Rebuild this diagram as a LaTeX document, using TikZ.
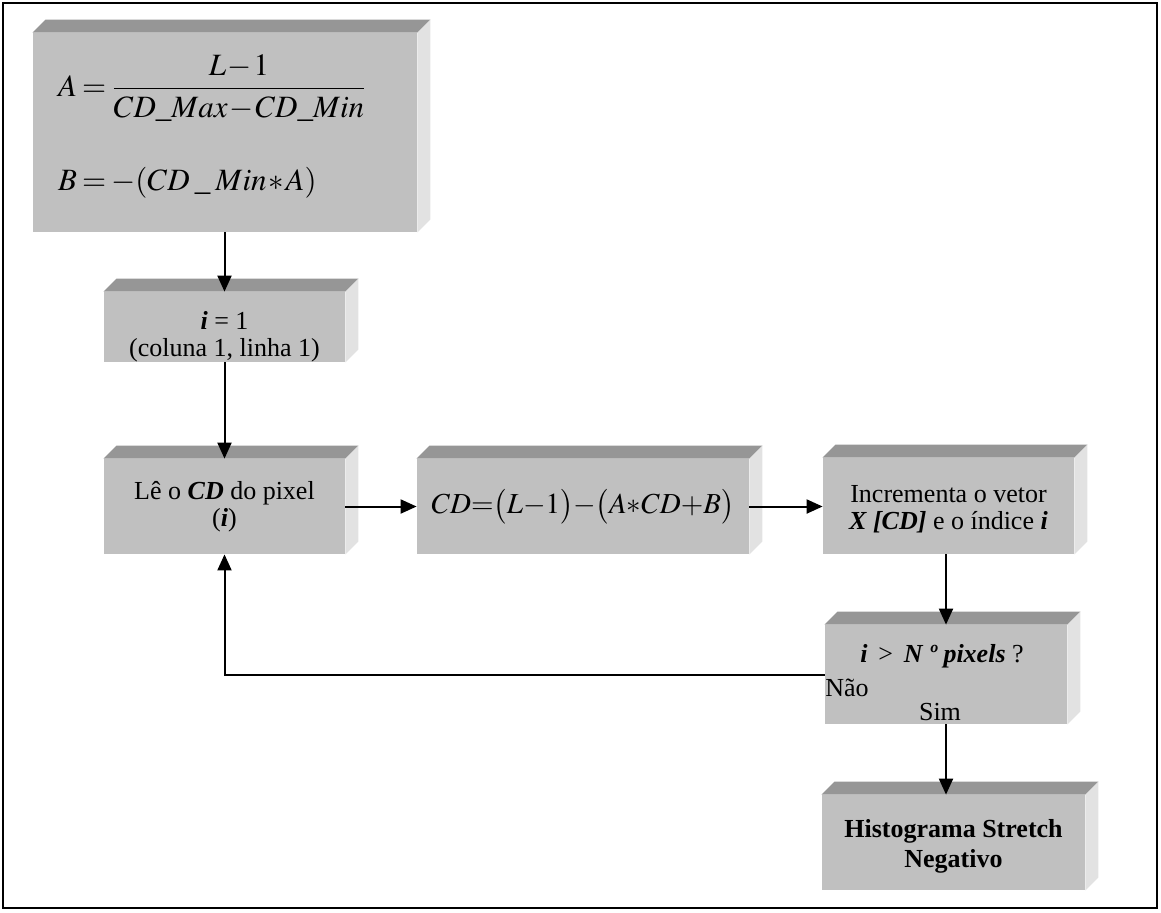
\documentclass[tikz,border=0pt]{standalone}
\usepackage{mathptmx}
\usepackage{fontspec}
\setmainfont{Liberation Serif}
\usetikzlibrary{arrows.meta}

\definecolor{slabfront}{HTML}{C0C0C0}
\definecolor{slabtop}{HTML}{969696}
\definecolor{slabside}{HTML}{E2E2E2}

\tikzset{
  slab/.style={fill=slabfront, inner sep=0pt, align=center,
    font=\fontsize{13}{13.5}\selectfont},
  flow/.style={line width=1pt, -{Triangle[length=8pt,width=7pt]}},
}

% top and right faces of a box, drawn from its node anchors
\newcommand\slabsides[1]{%
  \fill[slabtop] (#1.north west) -- (#1.north east) -- ++(13,-13)
    -- ([shift={(13,-13)}]#1.north west) -- cycle;
  \fill[slabside] (#1.north east) -- ++(13,-13)
    -- ([shift={(13,-13)}]#1.south east) -- (#1.south east) -- cycle;
}

\begin{document}
\begin{tikzpicture}[x=0.5pt,y=-0.5pt]
  \useasboundingbox (0,0) rectangle (1161,912);
  \draw[line width=1pt] (3,3) rectangle (1157,908);

  \node[slab, minimum width=192pt, minimum height=99.5pt, text width=167pt,
        align=left, font=\fontsize{15.5}{18}\selectfont] (form) at (225,132.5)
    {$\medmuskip=1mu\thickmuskip=3mu\displaystyle A=\frac{L-1}{CD\_Max-CD\_Min}$\\[22pt]
     $\medmuskip=1mu\thickmuskip=3mu B=-(CD\;\_\;Min*A)$\rule[-10pt]{0pt}{1pt}};
  \node[slab, minimum width=120.5pt, minimum height=35pt, text height=32pt] (init) at (224.5,327)
    {\textbf{\textit{i}} = 1\\(coluna 1, linha 1)};
  \node[slab, minimum width=120.5pt, minimum height=47.5pt] (read) at (224.5,506.5)
    {Lê o \textbf{\textit{CD}} do pixel\\(\textbf{\textit{i}})};
  \node[slab, minimum width=166pt, minimum height=47.5pt,
        font=\fontsize{14.5}{17}\selectfont] (calc) at (583,506.5)
    {$CD{=}\bigl(L{-}1\bigr){-}\bigl(A{*}CD{+}B\bigr)$};
  \node[slab, minimum width=125.5pt, minimum height=48pt, text height=25.5pt] (incr) at (948.5,506)
    {Incrementa o vetor\\\textbf{\textit{X [CD]}} e o índice \textbf{\textit{i}}};
  \node[slab, minimum width=121pt, minimum height=49.5pt] (test) at (946,674.5) {};
  \node[slab, minimum width=131.5pt, minimum height=47.5pt, text height=28pt,
        font=\fontsize{13}{15}\selectfont] (hist) at (953.5,842.5)
    {\textbf{Histograma Stretch}\\\textbf{Negativo}};

  \foreach \b in {form,init,read,calc,incr,test,hist} {\slabsides{\b}}

  \node[anchor=base, font=\fontsize{13}{13.5}\selectfont] (testq) at (942,662)
    {\textbf{\textit{i}}\, > \,\textbf{\textit{N º pixels}} ?};
  \node[anchor=base west, inner sep=0pt, font=\fontsize{13}{13.5}\selectfont] (nao) at (825,696) {Não};
  \node[anchor=base, inner sep=0pt, font=\fontsize{13}{13.5}\selectfont] (sim) at (940,720) {Sim};

  \draw[flow] (init.north |- form.south) -- (init.north);
  \draw[flow] (init.south) -- (read.north);
  \draw[flow] (read.east) -- (calc.west);
  \draw[flow] (calc.east) -- (calc.east -| incr.west);
  \draw[flow] (test.north |- incr.south) -- (test.north);
  \draw[flow] (test.south) -- (test.south |- hist.north);
  \draw[flow] (test.west) -| (read.south);
\end{tikzpicture}
\end{document}
